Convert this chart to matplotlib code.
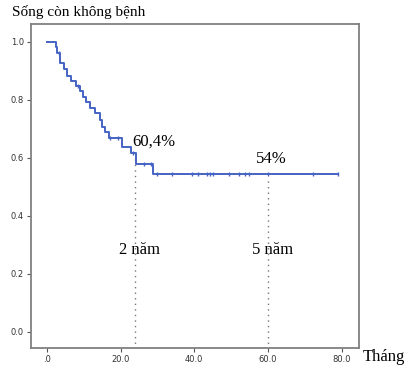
import numpy as np
import matplotlib.pyplot as plt

# Kaplan-Meier steps
event_times = [0, 2.4, 2.8, 3.6, 4.7, 5.4, 6.5, 7.9, 9.0, 9.8, 10.6, 11.7, 13.0,
               14.4, 14.9, 15.7, 16.8, 20.4, 22.8, 24.2, 28.7]
survival = [1.0, 0.98, 0.96, 0.925, 0.905, 0.88, 0.864, 0.847, 0.831, 0.81, 0.793,
            0.77, 0.753, 0.73, 0.707, 0.69, 0.667, 0.638, 0.615, 0.578, 0.544]
end_time = 79.0
censor_times = [3.2, 8.5, 17.1, 19.4, 23.3, 26.3, 28.4, 29.8, 34.1, 39.3, 40.9, 43.5,
                44.2, 45.1, 49.5, 52.2, 53.9, 54.9, 60.1, 72.3, 79.0]

xticks = [0, 20, 40, 60, 80]
xtick_labels = [".0", "20.0", "40.0", "60.0", "80.0"]
yticks = [0.0, 0.2, 0.4, 0.6, 0.8, 1.0]
marks = [24, 60]
mark_labels = ["2 năm", "5 năm"]

blue = "#4563c4"
serif = "Liberation Serif"

fig = plt.figure(figsize=(4.13, 3.68), dpi=100)
ax = fig.add_axes([0.075, 0.054, 0.794, 0.881])

t = np.array(event_times + [end_time])
s = np.array(survival + [survival[-1]])
ax.step(t, s, where="post", color=blue, lw=1.4, zorder=3)

# censor marks on the curve
cs = [s[np.searchsorted(t, c, side="right") - 1] for c in censor_times]
ax.plot(censor_times, cs, linestyle="none", marker="|", ms=3.5, mew=1.0, color=blue, zorder=3)

# dotted reference lines at 2 and 5 years
for m in marks:
    sv = s[np.searchsorted(t, m, side="right") - 1]
    ax.plot([m, m], [-0.06, sv - 0.02], linestyle=(0, (1, 3)), color="#777777", lw=1.0, zorder=2)

ax.text(23.2, 0.655, "60,4%", family=serif, fontsize=12, ha="left", va="center")
ax.text(61, 0.594, "54%", family=serif, fontsize=12, ha="center", va="center")
for m, lab in zip(marks, mark_labels):
    ax.text(m + 1.2, 0.282, lab, family=serif, fontsize=12, ha="center", va="center")

ax.set_xlim(-4.3, 84.7)
ax.set_ylim(-0.056, 1.061)
ax.set_xticks(xticks)
ax.set_xticklabels(xtick_labels)
ax.set_yticks(yticks)
ax.set_yticklabels([f"{v:.1f}" for v in yticks])
ax.tick_params(axis="both", labelsize=6, colors="#555555", labelcolor="#333333",
               length=3, width=0.8, pad=2)
for sp in ax.spines.values():
    sp.set_color("#808080")
    sp.set_linewidth(1.3)

fig.text(12 / 413, 1 - 12 / 368, "Sống còn không bệnh", family=serif, fontsize=11,
         ha="left", va="center")
fig.text(363 / 413, 1 - 357 / 368, "Tháng", family=serif, fontsize=12,
         ha="left", va="center")

fig.savefig("out.png", dpi=100)
